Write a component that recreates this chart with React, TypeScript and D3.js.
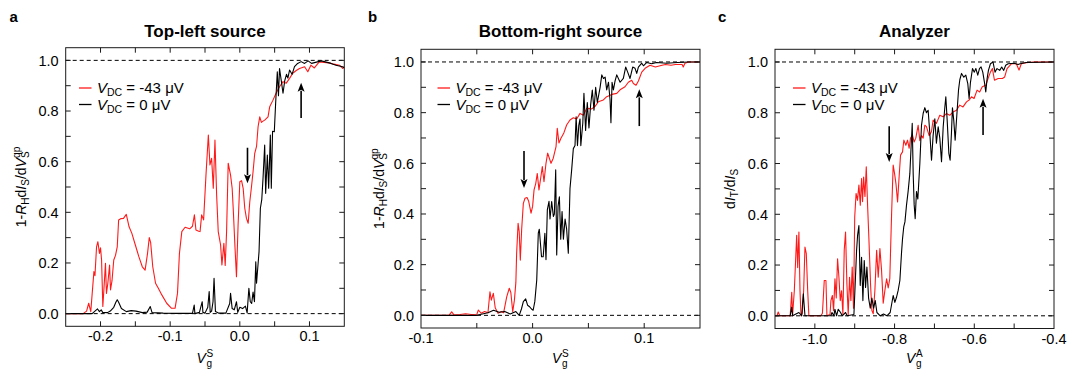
import React from "react";
import * as d3 from "d3";

type Pt = [number, number];

// ---------- data ----------
const topLeftRed: Pt[] = [[-0.25,0],[-0.225,0],[-0.22,0.01],[-0.217,0.041],[-0.214,0.008],[-0.2095,0.166],[-0.208,0.15],[-0.2057,0.264],[-0.2038,0.284],[-0.2015,0.238],[-0.2,0.26],[-0.1985,0.212],[-0.1967,0.028],[-0.1955,0.08],[-0.1929,0.199],[-0.1915,0.08],[-0.1895,0.12],[-0.187,0.192],[-0.1857,0.094],[-0.1835,0.13],[-0.181,0.212],[-0.1785,0.23],[-0.176,0.264],[-0.174,0.37],[-0.171,0.375],[-0.167,0.376],[-0.163,0.392],[-0.159,0.343],[-0.155,0.317],[-0.15,0.271],[-0.145,0.225],[-0.14,0.185],[-0.136,0.172],[-0.1325,0.238],[-0.13,0.3],[-0.128,0.28],[-0.125,0.185],[-0.121,0.12],[-0.117,0.1],[-0.112,0.074],[-0.105,0.041],[-0.098,0.021],[-0.093,0.021],[-0.0895,0.08],[-0.0867,0.238],[-0.0833,0.324],[-0.0786,0.341],[-0.072,0.335],[-0.068,0.345],[-0.0652,0.39],[-0.063,0.33],[-0.059,0.325],[-0.0571,0.324],[-0.0548,0.39],[-0.052,0.37],[-0.0486,0.547],[-0.0452,0.705],[-0.0429,0.587],[-0.0405,0.613],[-0.0381,0.495],[-0.0357,0.685],[-0.0333,0.468],[-0.031,0.324],[-0.0276,0.271],[-0.0257,0.192],[-0.0229,0.278],[-0.021,0.19],[-0.019,0.324],[-0.0167,0.594],[-0.0133,0.547],[-0.011,0.495],[-0.0095,0.416],[-0.0071,0.271],[-0.0048,0.146],[-0.0025,0.35],[0,0.521],[0.0025,0.525],[0.0048,0.495],[0.0071,0.416],[0.0095,0.376],[0.012,0.357],[0.0143,0.442],[0.0167,0.5],[0.019,0.56],[0.0214,0.633],[0.024,0.66],[0.0262,0.738],[0.0286,0.777],[0.031,0.755],[0.0333,0.76],[0.0357,0.764],[0.0405,0.777],[0.0429,0.817],[0.0476,0.843],[0.052,0.87],[0.057,0.896],[0.062,0.916],[0.0667,0.91],[0.0714,0.929],[0.076,0.949],[0.081,0.96],[0.0857,0.968],[0.093,0.975],[0.0976,0.955],[0.102,0.981],[0.107,0.97],[0.114,0.994],[0.121,0.992],[0.128,0.99],[0.135,0.985],[0.143,0.981],[0.1476,0.968],[0.15,0.975]];

const topLeftBlack: Pt[] = [[-0.25,0],[-0.212,0],[-0.208,0.01],[-0.2043,0.0185],[-0.2015,0.008],[-0.199,0.015],[-0.197,0.005],[-0.19,0.004],[-0.186,0.01],[-0.181,0.025],[-0.178,0.045],[-0.176,0.055],[-0.174,0.045],[-0.17,0.02],[-0.163,0.008],[-0.156,0.012],[-0.149,0.01],[-0.14,0.004],[-0.133,0.006],[-0.1286,0.028],[-0.126,0.004],[-0.11,0.002],[-0.09,0.001],[-0.068,0.001],[-0.0655,0.034],[-0.0645,0],[-0.058,0.005],[-0.054,0.047],[-0.053,0.005],[-0.05,0.002],[-0.046,0.025],[-0.044,0.087],[-0.0425,0.005],[-0.0405,0.01],[-0.0385,0.047],[-0.037,0.14],[-0.035,0.008],[-0.03,0.002],[-0.02,0.002],[-0.0145,0.04],[-0.0133,0.08],[-0.011,0.02],[-0.008,0.015],[-0.0048,0.047],[-0.003,0.005],[0,0.025],[0.004,0.02],[0.008,0.03],[0.0105,0.003],[0.013,0.1],[0.015,0.047],[0.017,0.04],[0.019,0.085],[0.021,0.047],[0.0229,0.205],[0.024,0.12],[0.0276,0.245],[0.0295,0.416],[0.0315,0.45],[0.0333,0.534],[0.0357,0.666],[0.0371,0.475],[0.0395,0.626],[0.0414,0.495],[0.0438,0.705],[0.0452,0.495],[0.047,0.72],[0.0495,0.718],[0.0514,0.83],[0.0538,0.955],[0.0555,0.86],[0.057,0.968],[0.0595,0.92],[0.062,0.87],[0.0645,0.92],[0.067,0.945],[0.069,0.93],[0.0714,0.962],[0.075,0.945],[0.0785,0.975],[0.083,0.988],[0.088,0.995],[0.093,0.988],[0.098,0.998],[0.103,0.988],[0.11,0.993],[0.117,0.998],[0.124,0.993],[0.131,0.988],[0.138,0.981],[0.1476,0.975],[0.15,0.97]];

const bottomRightRed: Pt[] = [[-0.1,0],[-0.075,0],[-0.0725,0.014],[-0.0705,0.002],[-0.065,0.003],[-0.06,0.006],[-0.055,0.003],[-0.05,0.004],[-0.0486,0.021],[-0.046,0.008],[-0.043,0.015],[-0.04,0.01],[-0.0382,0.093],[-0.037,0.06],[-0.0352,0.087],[-0.0335,0.03],[-0.031,0.008],[-0.028,0.015],[-0.026,0.01],[-0.0232,0.073],[-0.0209,0.107],[-0.0195,0.09],[-0.0178,0.014],[-0.0163,0.06],[-0.015,0.13],[-0.0143,0.245],[-0.013,0.363],[-0.012,0.33],[-0.011,0.218],[-0.0098,0.34],[-0.0083,0.442],[-0.0068,0.462],[-0.005,0.465],[-0.0035,0.45],[-0.0014,0.403],[0,0.43],[0.0013,0.495],[0.0028,0.52],[0.0042,0.56],[0.0057,0.495],[0.0072,0.54],[0.0087,0.587],[0.0102,0.527],[0.012,0.6],[0.0135,0.64],[0.015,0.62],[0.0165,0.6],[0.0185,0.62],[0.021,0.666],[0.0221,0.738],[0.0236,0.68],[0.0254,0.699],[0.028,0.72],[0.0305,0.751],[0.0335,0.771],[0.0365,0.78],[0.0395,0.775],[0.0425,0.797],[0.0455,0.79],[0.0485,0.817],[0.053,0.815],[0.056,0.825],[0.0589,0.843],[0.0634,0.85],[0.0664,0.863],[0.071,0.872],[0.0754,0.876],[0.0784,0.89],[0.0828,0.902],[0.0858,0.92],[0.0888,0.928],[0.0903,0.915],[0.0927,0.908],[0.0948,0.925],[0.0978,0.96],[0.1008,0.975],[0.1052,0.987],[0.11,0.98],[0.116,0.987],[0.119,0.99],[0.124,0.987],[0.128,0.99],[0.134,0.99],[0.135,0.98],[0.1365,0.995],[0.14,1],[0.15,1]];

const bottomRightBlack: Pt[] = [[-0.1,0],[-0.05,0],[-0.045,0.005],[-0.04,0.01],[-0.035,0.02],[-0.03,0.012],[-0.025,0.015],[-0.02,0.005],[-0.015,0.015],[-0.012,0],[-0.01,0.025],[-0.0083,0.054],[-0.0062,0.065],[-0.0045,0.04],[-0.003,0.035],[-0.001,0.025],[0.0005,0.02],[0.002,0.055],[0.0037,0.139],[0.0051,0.324],[0.006,0.34],[0.008,0.231],[0.0095,0.231],[0.011,0.324],[0.012,0.22],[0.0132,0.416],[0.0147,0.45],[0.0156,0.38],[0.0171,0.449],[0.0186,0.39],[0.0195,0.4],[0.0207,0.574],[0.0216,0.238],[0.0228,0.43],[0.024,0.468],[0.0252,0.3],[0.0264,0.41],[0.0276,0.3],[0.0291,0.38],[0.0305,0.34],[0.032,0.245],[0.0335,0.5],[0.035,0.574],[0.0365,0.658],[0.038,0.67],[0.039,0.784],[0.0402,0.67],[0.0414,0.75],[0.0425,0.775],[0.0432,0.67],[0.045,0.76],[0.046,0.876],[0.0475,0.73],[0.049,0.84],[0.0505,0.74],[0.052,0.83],[0.0535,0.889],[0.055,0.81],[0.0565,0.9],[0.058,0.84],[0.0605,0.9],[0.062,0.949],[0.0635,0.935],[0.065,0.94],[0.0664,0.89],[0.068,0.92],[0.0694,0.85],[0.0702,0.76],[0.0712,0.92],[0.0724,0.89],[0.0739,0.925],[0.0754,0.949],[0.0784,0.92],[0.0813,0.935],[0.0834,0.98],[0.0852,0.96],[0.0873,0.935],[0.0897,0.98],[0.0918,0.975],[0.0933,0.955],[0.0948,0.98],[0.0978,0.995],[0.0993,0.985],[0.1023,0.998],[0.1067,0.993],[0.1112,0.998],[0.12,0.995],[0.13,0.998],[0.14,1],[0.15,1]];

const analyzerRed: Pt[] = [[-1.1,0],[-1.095,0],[-1.092,0.015],[-1.088,0],[-1.062,0],[-1.058,0.093],[-1.056,0],[-1.0515,0.1],[-1.0456,0.317],[-1.0431,0.19],[-1.04,0.33],[-1.0373,0.1],[-1.0348,0],[-1.0315,0.01],[-1.0281,0.1],[-1.0248,0.271],[-1.0215,0.245],[-1.018,0.1],[-1.015,0],[-0.985,0],[-0.981,0.01],[-0.9764,0.139],[-0.9722,0.139],[-0.9697,0],[-0.962,0.005],[-0.9597,0.06],[-0.956,0.08],[-0.953,0.02],[-0.9496,0.146],[-0.9463,0.07],[-0.943,0.225],[-0.9396,0.152],[-0.9363,0.06],[-0.933,0.099],[-0.9296,0.005],[-0.9263,0.258],[-0.923,0.33],[-0.9196,0.125],[-0.9163,0.005],[-0.913,0.152],[-0.9096,0.06],[-0.9063,0.192],[-0.903,0.03],[-0.9,0.389],[-0.8966,0.482],[-0.893,0.455],[-0.8895,0.515],[-0.886,0.436],[-0.8828,0.541],[-0.8803,0.45],[-0.8777,0.547],[-0.8743,0.47],[-0.871,0.587],[-0.8677,0.436],[-0.8644,0.304],[-0.8602,0.12],[-0.8569,0.021],[-0.8535,0.008],[-0.8494,0.1],[-0.845,0.258],[-0.841,0.152],[-0.8368,0.265],[-0.8327,0.18],[-0.8285,0.05],[-0.8243,0.1],[-0.82,0.146],[-0.816,0.11],[-0.812,0.146],[-0.8075,0.4],[-0.8035,0.594],[-0.8,0.56],[-0.7965,0.52],[-0.7925,0.449],[-0.7885,0.55],[-0.785,0.633],[-0.78,0.646],[-0.7767,0.692],[-0.7717,0.672],[-0.7675,0.692],[-0.7634,0.66],[-0.76,0.7],[-0.755,0.712],[-0.751,0.685],[-0.7467,0.7],[-0.7408,0.751],[-0.7366,0.69],[-0.7325,0.71],[-0.7283,0.7],[-0.7241,0.751],[-0.72,0.745],[-0.7133,0.71],[-0.7075,0.725],[-0.7033,0.771],[-0.695,0.758],[-0.6866,0.79],[-0.6783,0.784],[-0.67,0.797],[-0.6616,0.79],[-0.6533,0.803],[-0.6446,0.81],[-0.6366,0.83],[-0.6283,0.823],[-0.6195,0.843],[-0.613,0.85],[-0.607,0.863],[-0.6005,0.856],[-0.593,0.889],[-0.5865,0.882],[-0.58,0.902],[-0.5712,0.908],[-0.5655,0.935],[-0.5595,0.96],[-0.5545,0.974],[-0.5494,0.928],[-0.54,0.935],[-0.5295,0.935],[-0.5237,0.941],[-0.5178,0.974],[-0.507,0.993],[-0.4945,0.993],[-0.4877,0.968],[-0.482,0.993],[-0.47,0.997],[-0.45,1],[-0.4,1]];

const analyzerBlack: Pt[] = [[-1.1,0],[-1.062,0],[-1.058,0.034],[-1.0557,0],[-1.05,0.005],[-1.04,0.013],[-1.033,0],[-1.029,0.087],[-1.0248,0],[-0.96,0],[-0.957,0.013],[-0.9522,0],[-0.9497,0.026],[-0.9455,0],[-0.9413,0.026],[-0.9355,0.013],[-0.9313,0],[-0.923,0.013],[-0.9188,0],[-0.902,0.005],[-0.8953,0.258],[-0.8928,0.317],[-0.8895,0.356],[-0.8862,0.12],[-0.8828,0.231],[-0.8795,0.06],[-0.8761,0.218],[-0.8728,0.112],[-0.8694,0.192],[-0.8652,0.07],[-0.861,0.03],[-0.8569,0.07],[-0.8527,0.03],[-0.8485,0.06],[-0.8443,0.013],[-0.836,0],[-0.8277,0.007],[-0.8193,0],[-0.811,0.013],[-0.8035,0.08],[-0.7993,0.053],[-0.7952,0.073],[-0.791,0.1],[-0.7867,0.139],[-0.7825,0.25],[-0.78,0.304],[-0.777,0.35],[-0.774,0.37],[-0.77,0.437],[-0.766,0.49],[-0.7617,0.56],[-0.7587,0.66],[-0.7557,0.758],[-0.7533,0.56],[-0.7508,0.437],[-0.7483,0.383],[-0.745,0.49],[-0.7416,0.46],[-0.7366,0.6],[-0.7325,0.75],[-0.7283,0.797],[-0.7241,0.82],[-0.72,0.8],[-0.7158,0.81],[-0.7116,0.72],[-0.7073,0.613],[-0.7033,0.71],[-0.699,0.776],[-0.695,0.68],[-0.6906,0.745],[-0.6865,0.7],[-0.6822,0.607],[-0.678,0.745],[-0.674,0.82],[-0.6714,0.863],[-0.668,0.77],[-0.6638,0.64],[-0.6606,0.613],[-0.6573,0.72],[-0.6548,0.82],[-0.6515,0.77],[-0.648,0.692],[-0.643,0.81],[-0.6396,0.889],[-0.6363,0.93],[-0.632,0.955],[-0.6263,0.94],[-0.6213,0.948],[-0.6163,0.915],[-0.613,0.856],[-0.6096,0.92],[-0.6045,0.974],[-0.6,0.96],[-0.596,0.974],[-0.5913,0.948],[-0.587,0.974],[-0.583,0.981],[-0.5787,0.96],[-0.5745,0.92],[-0.5712,0.882],[-0.5678,0.935],[-0.5645,0.967],[-0.5595,0.993],[-0.553,1],[-0.548,0.96],[-0.543,0.974],[-0.5362,0.967],[-0.5312,0.98],[-0.5262,0.967],[-0.5212,0.987],[-0.515,0.993],[-0.5,0.995],[-0.49,0.99],[-0.485,0.993],[-0.47,0.998],[-0.4,1]];

// arrows: [x, yTail, yHead]
const topLeftArrows: [number, number, number][] = [[0.011, 0.655, 0.515], [0.088, 0.772, 0.912]];
const bottomRightArrows: [number, number, number][] = [[-0.0077, 0.649, 0.503], [0.0956, 0.747, 0.892]];
const analyzerArrows: [number, number, number][] = [[-0.8135, 0.747, 0.606], [-0.578, 0.712, 0.855]];

// ticks
const yMinorTicks = [0, 0.1, 0.2, 0.3, 0.4, 0.5, 0.6, 0.7, 0.8, 0.9, 1.0];
const yLabelTicks = [0, 0.2, 0.4, 0.6, 0.8, 1.0];
const topLeftXTicks = [-0.2, -0.15, -0.1, -0.05, 0, 0.05, 0.1];
const topLeftXLabels = [-0.2, -0.1, 0.0, 0.1];
const bottomRightXTicks = [-0.05, 0, 0.05, 0.1];
const bottomRightXLabels = [-0.1, 0.0, 0.1];
const analyzerXTicks = [-1.0, -0.9, -0.8, -0.7, -0.6, -0.5];
const analyzerXLabels = [-1.0, -0.8, -0.6, -0.4];

const legendLabels = ["= -43 μV", "= 0 μV"];
const RED = "#ff1a1a";
const FONT = "'Liberation Sans', Arial, Helvetica, sans-serif";

interface Spec {
  letter: string;
  letterX: number;
  title: string;
  left: number; right: number; top: number; bottom: number;
  xDomain: [number, number];
  xTicks: number[];
  xLabels: number[];
  red: Pt[];
  black: Pt[];
  arrows: [number, number, number][];
  legendX: number;
  yLabelX: number;
  yLabel: "RH" | "T";
  xSup: string;
}

const specs: Spec[] = [
  { letter: "a", letterX: 9.5, title: "Top-left source", left: 65.7, right: 344.3, top: 47.7, bottom: 326.3,
    xDomain: [-0.25, 0.15], xTicks: topLeftXTicks, xLabels: topLeftXLabels, red: topLeftRed, black: topLeftBlack,
    arrows: topLeftArrows, legendX: 79, yLabelX: 25.5, yLabel: "RH", xSup: "S" },
  { letter: "b", letterX: 368, title: "Bottom-right source", left: 421, right: 700, top: 49.3, bottom: 328,
    xDomain: [-0.1, 0.15], xTicks: bottomRightXTicks, xLabels: bottomRightXLabels, red: bottomRightRed, black: bottomRightBlack,
    arrows: bottomRightArrows, legendX: 437.5, yLabelX: 384, yLabel: "RH", xSup: "S" },
  { letter: "c", letterX: 718, title: "Analyzer", left: 775, right: 1054, top: 49.3, bottom: 328.5,
    xDomain: [-1.1, -0.4], xTicks: analyzerXTicks, xLabels: analyzerXLabels, red: analyzerRed, black: analyzerBlack,
    arrows: analyzerArrows, legendX: 793, yLabelX: 735, yLabel: "T", xSup: "A" },
];

const fmt = (v: number) => (Math.abs(v) < 1e-9 ? 0 : v).toFixed(1);

function Panel({ s }: { s: Spec }) {
  const x = d3.scaleLinear().domain(s.xDomain).range([s.left, s.right]);
  const y = d3.scaleLinear().domain([-0.05, 1.05]).range([s.bottom, s.top]);
  const line = d3.line<Pt>().x((d) => x(d[0])).y((d) => y(d[1]));
  const cx = (s.left + s.right) / 2;
  const cy = (s.top + s.bottom) / 2;
  const tickLen = 5;
  const clipId = `clip-${s.letter}`;
  return (
    <g>
      <defs>
        <clipPath id={clipId}>
          <rect x={s.left} y={s.top} width={s.right - s.left} height={s.bottom - s.top} />
        </clipPath>
      </defs>
      <text x={s.letterX} y={22} fontFamily={FONT} fontWeight="bold" fontSize={15}>{s.letter}</text>
      <text x={cx} y={37} textAnchor="middle" fontFamily={FONT} fontWeight="bold" fontSize={17}>{s.title}</text>
      {/* reference dashed lines */}
      {[0, 1].map((v) => (
        <line key={v} x1={s.left} x2={s.right} y1={y(v)} y2={y(v)} stroke="#000" strokeWidth={1} strokeDasharray="4,3" />
      ))}
      <g clipPath={`url(#${clipId})`}>
        <path d={line(s.red) || ""} fill="none" stroke={RED} strokeWidth={1.1} strokeLinejoin="round" />
        <path d={line(s.black) || ""} fill="none" stroke="#000" strokeWidth={1.1} strokeLinejoin="round" />
      </g>
      {/* frame */}
      <rect x={s.left} y={s.top} width={s.right - s.left} height={s.bottom - s.top} fill="none" stroke="#1a1a1a" strokeWidth={1} />
      {/* y ticks */}
      {yMinorTicks.map((v) => (
        <g key={"y" + v}>
          <line x1={s.left} x2={s.left + tickLen} y1={y(v)} y2={y(v)} stroke="#1a1a1a" />
          <line x1={s.right} x2={s.right - tickLen} y1={y(v)} y2={y(v)} stroke="#1a1a1a" />
        </g>
      ))}
      {yLabelTicks.map((v) => (
        <text key={"yl" + v} x={s.left - 7} y={y(v)} dy="0.36em" textAnchor="end" fontFamily={FONT} fontSize={14.5}>{fmt(v)}</text>
      ))}
      {/* x ticks */}
      {s.xTicks.map((v) => (
        <g key={"x" + v}>
          <line x1={x(v)} x2={x(v)} y1={s.bottom} y2={s.bottom - tickLen} stroke="#1a1a1a" />
          <line x1={x(v)} x2={x(v)} y1={s.top} y2={s.top + tickLen} stroke="#1a1a1a" />
        </g>
      ))}
      {s.xLabels.map((v) => (
        <text key={"xl" + v} x={x(v)} y={s.bottom + 15} textAnchor="middle" fontFamily={FONT} fontSize={14.5}>{fmt(v)}</text>
      ))}
      {/* x axis label */}
      <text x={cx - 8.5} y={363} fontFamily={FONT} fontSize={14} fontStyle="italic">V</text>
      <text x={cx + 1.5} y={357} fontFamily={FONT} fontSize={10}>{s.xSup}</text>
      <text x={cx + 1.5} y={366.5} fontFamily={FONT} fontSize={10}>g</text>
      {/* y axis label */}
      <text transform={`translate(${s.yLabelX},${cy}) rotate(-90)`} textAnchor="middle" fontFamily={FONT} fontSize={14}>
        {s.yLabel === "RH" ? (
          <>
            <tspan>1-</tspan>
            <tspan fontStyle="italic">R</tspan>
            <tspan fontSize={10} dy={3}>H</tspan>
            <tspan dy={-3}>d</tspan>
            <tspan fontStyle="italic">I</tspan>
            <tspan fontSize={10} dy={3}>S</tspan>
            <tspan dy={-3}>/d</tspan>
            <tspan fontStyle="italic">V</tspan>
            <tspan fontSize={10} dy={3}>S</tspan>
            <tspan fontSize={10} dx={-6.5} dy={-9}>qp</tspan>
          </>
        ) : (
          <>
            <tspan>d</tspan>
            <tspan fontStyle="italic">I</tspan>
            <tspan fontSize={10} dy={3}>T</tspan>
            <tspan dy={-3}>/d</tspan>
            <tspan fontStyle="italic">I</tspan>
            <tspan fontSize={10} dy={3}>S</tspan>
          </>
        )}
      </text>
      {/* legend */}
      {[RED, "#000"].map((c, i) => {
        const ly = 88 + i * 16.5;
        return (
          <g key={"lg" + i}>
            <line x1={s.legendX} x2={s.legendX + 12.5} y1={ly} y2={ly} stroke={c} strokeWidth={1.3} />
            <text x={s.legendX + 18} y={ly + 5} fontFamily={FONT} fontSize={15}>
              <tspan fontStyle="italic">V</tspan>
              <tspan fontSize={10.5} dy={3}>DC</tspan>
              <tspan dy={-3}> {legendLabels[i]}</tspan>
            </text>
          </g>
        );
      })}
      {/* arrows */}
      {s.arrows.map(([ax, y0, y1], i) => {
        const px = x(ax);
        const pt = y(y0);
        const ph = y(y1);
        const dir = ph > pt ? 1 : -1;
        const headLen = 9;
        const hw = 3.5;
        const base = ph - dir * headLen;
        return (
          <g key={"ar" + i}>
            <line x1={px} x2={px} y1={pt} y2={base + dir * 1} stroke="#000" strokeWidth={1.6} />
            <path d={`M${px},${ph} L${px - hw},${base} L${px},${base + dir * 2} L${px + hw},${base} Z`} fill="#000" />
          </g>
        );
      })}
    </g>
  );
}

export default function App() {
  return (
    <svg width={1070} height={370} viewBox="0 0 1070 370" style={{ position: "absolute", left: 0, top: 0, background: "#fff" }}>
      <rect x={0} y={0} width={1070} height={370} fill="#fff" />
      {specs.map((s) => (
        <Panel key={s.letter} s={s} />
      ))}
    </svg>
  );
}
